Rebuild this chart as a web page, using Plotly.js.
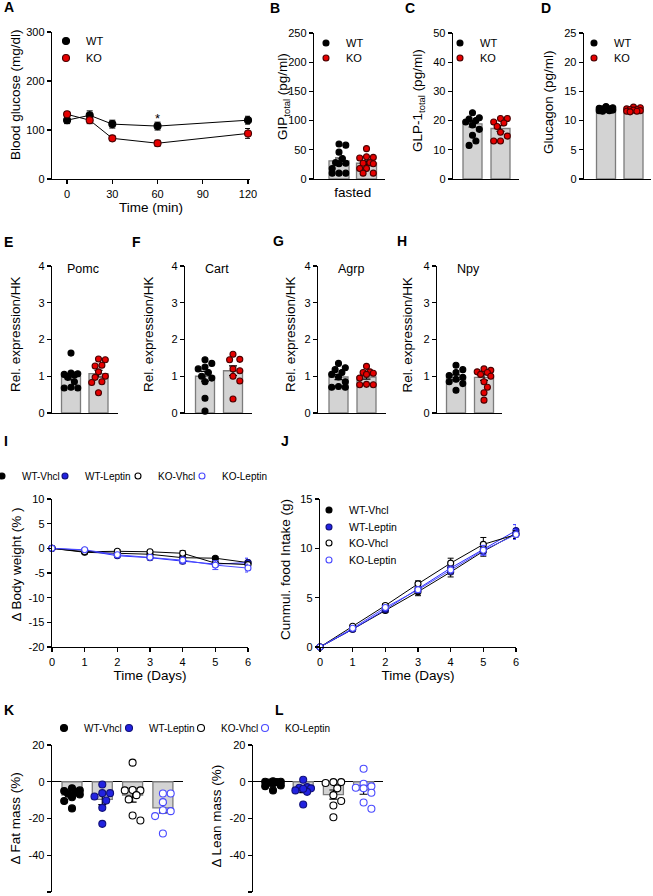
<!DOCTYPE html>
<html><head><meta charset="utf-8">
<script src="https://cdn.plot.ly/plotly-3.0.1.min.js"></script>
<style>html,body{margin:0;padding:0;background:#fff}#chart{width:653px;height:896px}</style>
</head><body><div id="chart"></div>
<script>
// ================= DATA =================
// A: blood glucose
const timeMin = [0, 15, 30, 60, 120];
const glucoseWT = [120, 130, 112, 108, 120];
const glucoseWTsem = [7, 9, 8, 8, 8];
const glucoseKO = [132, 120, 83, 73, 93];
const glucoseKOsem = [5, 7, 5, 6, 10];
const glucoseTicks = [0, 100, 200, 300];
const timeMinTicks = [0, 30, 60, 90, 120];
const sigTimeIndex = 3; // "*" at 60 min
const genotypes = ['WT', 'KO'];

// B: GIP total
const gipWT = [60, 58, 46, 35, 28, 27, 26, 18, 10, 10, 10];
const gipKO = [52, 38, 37, 36, 28, 27, 26, 18, 18, 10, 10];
const gipMean = [31, 27];
const gipSem = [5, 4];
const gipTicks = [0, 50, 100, 150, 200, 250];
// C: GLP-1 total
const glp1WT = [22.7, 21, 20.5, 20, 19.5, 18.5, 17, 15, 13, 11.5];
const glp1KO = [20.7, 20.7, 19.5, 19.2, 18, 16, 14.7, 13, 13];
const glp1Mean = [18.9, 17.3];
const glp1Sem = [1.1, 1.0];
const glp1Ticks = [0, 10, 20, 30, 40, 50];
// D: Glucagon
const glucagonWT = [12.4, 12.2, 12.1, 12.0, 12.0, 11.9, 11.8, 11.7, 11.7, 11.6];
const glucagonKO = [12.3, 12.2, 12.0, 11.9, 11.9, 11.8, 11.7, 11.6, 11.6, 11.5];
const glucagonMean = [11.9, 11.8];
const glucagonSem = [0.1, 0.1];
const glucagonTicks = [0, 5, 10, 15, 20, 25];

// E-H: relative expression
const exprTicks = [0, 1, 2, 3, 4];
const pomcWT = [1.63, 1.09, 1.07, 1.05, 1.03, 0.97, 0.85, 0.70, 0.68, 0.68];
const pomcKO = [1.47, 1.45, 1.30, 1.28, 1.12, 1.00, 0.97, 0.85, 0.83, 0.55];
const pomcMean = [0.99, 1.07];
const pomcSem = [0.09, 0.09];
const cartWT = [1.45, 1.35, 1.25, 1.20, 1.10, 1.00, 0.95, 0.85, 0.40, 0.05];
const cartKO = [1.60, 1.46, 1.45, 1.20, 1.15, 1.00, 0.87, 0.38];
const cartMean = [1.00, 1.15];
const cartSem = [0.13, 0.13];
const agrpWT = [1.35, 1.23, 1.18, 1.10, 1.05, 0.98, 0.85, 0.72, 0.70, 0.70];
const agrpKO = [1.27, 1.12, 1.10, 1.08, 1.05, 0.95, 0.78, 0.77, 0.77];
const agrpMean = [0.98, 0.98];
const agrpSem = [0.07, 0.06];
const npyWT = [1.30, 1.18, 1.10, 1.02, 0.97, 0.92, 0.85, 0.80, 0.62];
const npyKO = [1.20, 1.16, 1.12, 1.10, 1.05, 1.00, 0.85, 0.70, 0.55, 0.35];
const npyMean = [0.97, 0.97];
const npySem = [0.07, 0.08];

// I, J: time course (days)
const treatments = ['WT-Vhcl', 'WT-Leptin', 'KO-Vhcl', 'KO-Leptin'];
const days = [0, 1, 2, 3, 4, 5, 6];
const bwWTVhcl = [0, -0.8, -1.0, -1.2, -1.9, -2.0, -2.9];
const bwWTLeptin = [0, -0.4, -1.5, -1.9, -2.6, -3.2, -2.9];
const bwKOVhcl = [0, -0.7, -0.6, -0.7, -1.0, -3.0, -3.3];
const bwKOLeptin = [0, -0.3, -1.3, -1.8, -2.4, -3.4, -4.0];
const bwWTVhclSem = [0, 0.2, 0.3, 0.3, 0.3, 0.3, 0.4];
const bwWTLeptinSem = [0, 0.2, 0.3, 0.4, 0.5, 0.5, 0.9];
const bwKOVhclSem = [0, 0.2, 0.3, 0.3, 0.5, 0.6, 0.5];
const bwKOLeptinSem = [0, 0.2, 0.3, 0.4, 0.6, 0.9, 0.8];
const bwTicks = [-20, -15, -10, -5, 0, 5, 10];
const fiWTVhcl = [0, 1.8, 3.7, 5.6, 7.6, 9.7, 11.5];
const fiWTLeptin = [0, 1.8, 3.8, 5.9, 8.0, 9.9, 11.8];
const fiKOVhcl = [0, 2.1, 4.2, 6.4, 8.5, 10.4, 11.4];
const fiKOLeptin = [0, 1.9, 4.0, 5.8, 7.8, 9.8, 11.4];
const fiWTVhclSem = [0, 0.1, 0.2, 0.4, 0.5, 0.5, 0.5];
const fiWTLeptinSem = [0, 0.1, 0.2, 0.3, 0.4, 0.5, 0.6];
const fiKOVhclSem = [0, 0.1, 0.2, 0.3, 0.5, 0.7, 0.4];
const fiKOLeptinSem = [0, 0.1, 0.2, 0.3, 0.4, 0.5, 0.5];
const fiTicks = [0, 5, 10, 15];
const dayTicks = [0, 1, 2, 3, 4, 5, 6];

// K, L: body composition
const massTicks = [-60, -40, -20, 0, 20];
const fatWTVhcl = [-3.6, -4.7, -5.1, -5.5, -6.5, -6.9, -8.4, -10.5, -14.5];
const fatWTLeptin = [-1.5, -6.2, -6.2, -8.0, -10.2, -14.2, -22.9];
const fatKOVhcl = [10.4, -4.5, -4.7, -4.7, -7.3, -9.6, -18.4, -21.1];
const fatKOLeptin = [-6.4, -6.4, -11.1, -15.5, -16.0, -18.7, -28.2];
const fatMean = [-7.3, -9.6, -7.3, -14.2];
const fatSem = [1.1, 2.8, 3.8, 2.7];
const leanWTVhcl = [0.3, 0, 0, -0.2, -0.5, -1.0, -2.0, -2.4, -4.7];
const leanWTLeptin = [1.1, -2.9, -3.3, -3.6, -4.7, -5.5, -3.8, -12.4];
const leanKOVhcl = [-0.2, -0.2, -0.7, -3.6, -7.3, -10.5, -12.9, -19.3];
const leanKOLeptin = [7.1, -1.1, -2.5, -3.3, -3.6, -6.0, -11.3, -14.7];
const leanMean = [-1.3, -4.5, -7.0, -4.4];
const leanSem = [0.5, 1.4, 2.5, 2.4];

// ================= STYLE / LAYOUT =================
const W = 653, H = 896;
const FONT = '"Liberation Sans", Arial, Helvetica, sans-serif';
const TITLE_SIZE = 13.5;
const BAR_FILL = '#d3d3d3', BAR_EDGE = '#7c7c7c';
const STY = {
  'WT': {fill: '#000000', edge: '#000000', line: '#000000'},
  'KO': {fill: '#e60000', edge: '#4a0000', line: '#000000'},
  'WT-Vhcl': {fill: '#000000', edge: '#000000', line: '#000000'},
  'WT-Leptin': {fill: '#2222e0', edge: '#10107a', line: '#2a2aff'},
  'KO-Vhcl': {fill: '#ffffff', edge: '#000000', line: '#000000'},
  'KO-Leptin': {fill: '#ffffff', edge: '#4a4aff', line: '#4a4aff'}
};

const traces = [];
const layout = {
  width: W, height: H,
  margin: {l: 0, r: 0, t: 0, b: 0, autoexpand: false},
  paper_bgcolor: '#ffffff', plot_bgcolor: 'rgba(0,0,0,0)',
  font: {family: FONT, size: 11, color: '#000'},
  showlegend: true, barmode: 'overlay', hovermode: false,
  annotations: []
};

const BASE_AX = {
  showline: true, linecolor: '#000', linewidth: 1.3, mirror: false,
  showgrid: false, zeroline: false,
  ticks: 'outside', ticklen: 4, tickwidth: 1.3, tickcolor: '#000',
  tickfont: {family: FONT, size: 11, color: '#000'},
  fixedrange: true, automargin: false,
  title: {font: {family: FONT, size: TITLE_SIZE, color: '#000'}}
};
function mergeAxis(base, extra) {
  const out = Object.assign({}, base, extra);
  out.title = Object.assign({}, base.title, extra.title || {});
  out.tickfont = Object.assign({}, base.tickfont, extra.tickfont || {});
  return out;
}
function note(text, px, py, o) {
  layout.annotations.push(Object.assign({text: text, xref: 'paper', yref: 'paper', x: px / W, y: 1 - py / H,
    showarrow: false, font: {family: FONT, size: 13, color: '#000'}}, o || {}));
}
// y-axis title drawn as a rotated text centred at (cx, cy) in pixels
function yTitle(text, cx, cy) {
  note(text, cx, cy, {textangle: -90, xanchor: 'center', yanchor: 'middle',
    font: {family: FONT, size: TITLE_SIZE, color: '#000'}});
}
let axCount = 0;
function makeAxes(box, xo, yo) {
  axCount++;
  const s = axCount === 1 ? '' : String(axCount);
  layout['xaxis' + s] = mergeAxis(BASE_AX, Object.assign({domain: [box.xl / W, box.xr / W], anchor: 'y' + s}, xo));
  layout['yaxis' + s] = mergeAxis(BASE_AX, Object.assign({domain: [1 - box.yb / H, 1 - box.yt / H], anchor: 'x' + s}, yo));
  if (box.title) yTitle(box.title, box.tx, box.ty);
  return {xaxis: 'x' + s, yaxis: 'y' + s};
}
let legCount = 0;
function legendAt(mx, my, fs) {
  legCount++;
  const id = legCount === 1 ? 'legend' : 'legend' + legCount;
  layout[id] = {x: (mx - 20) / W, y: 1 - (my - 14.5) / H, xanchor: 'left', yanchor: 'top',
    bgcolor: 'rgba(0,0,0,0)', borderwidth: 0, itemwidth: 30,
    font: {family: FONT, size: fs || 11, color: '#000'}};
  return id;
}
function letter(t, left, cy) {
  note('<b>' + t + '</b>', left, cy, {xanchor: 'left', yanchor: 'middle', font: {family: FONT, size: 14, color: '#000'}});
}
// compact beeswarm limited to +-maxOff px: returns x offsets (axis units)
function swarm(vals, pxPerX, pxPerY, d, maxOff) {
  const order = vals.map((v, i) => i).sort((a, b) => vals[b] - vals[a]);
  const cands = [0];
  for (let k = 1; k * d * 0.5 <= maxOff + 0.01; k++) cands.push(k * d * 0.5, -k * d * 0.5);
  const placed = [];
  const off = new Array(vals.length).fill(0);
  order.forEach(i => {
    const y = vals[i] * pxPerY;
    let best = 0, bestScore = -1;
    for (const c of cands) {
      const m = placed.reduce((mn, p) => Math.min(mn, Math.hypot(p.x - c, p.y - y)), Infinity);
      if (m >= d * 0.95) { best = c; break; }
      if (m > bestScore) { bestScore = m; best = c; }
    }
    placed.push({x: best, y: y});
    off[i] = best / pxPerX;
  });
  return off;
}

function barPanel(p) {
  const b = p.box;
  const xr = [(b.xl - b.c0) / b.dc, (b.xr - b.c0) / b.dc];
  const yr = [p.ticks[0], p.ticks[p.ticks.length - 1]];
  const ax = makeAxes(b,
    Object.assign({range: xr, ticks: '', showticklabels: false}, p.xo || {}),
    Object.assign({range: yr, tickvals: p.ticks, ticktext: p.ticks.map(String)}, p.yo || {}));
  const pxPerY = (b.yb - b.yt) / (yr[1] - yr[0]);
  traces.push(Object.assign({type: 'bar', x: p.cats.map((c, i) => i), y: p.means, width: b.bw / b.dc,
    marker: {color: BAR_FILL, line: {color: BAR_EDGE, width: 1.3}},
    error_y: {type: 'data', array: p.sems, visible: true, color: '#000', thickness: 1.2, width: 4},
    showlegend: false, hoverinfo: 'skip'}, ax));
  p.cats.forEach((c, i) => {
    const vals = p.vals[i];
    const off = swarm(vals, b.dc, pxPerY, p.msize + 0.8, b.bw / 2 - 1);
    const st = STY[c];
    const tr = Object.assign({type: 'scatter', mode: 'markers', name: c,
      x: vals.map((v, j) => i + off[j]), y: vals,
      marker: {size: p.msize, color: st.fill, line: {color: st.edge, width: 1.1}},
      cliponaxis: false, showlegend: !!p.legend, hoverinfo: 'skip'}, ax);
    if (p.legend) tr.legend = legendAt(p.legend[i][0], p.legend[i][1], p.legendFont || 11);
    traces.push(tr);
  });
  return ax;
}

function timePanel(p) {
  const ax = makeAxes(p.box, p.xo, p.yo);
  p.series.forEach(s => {
    traces.push(Object.assign({type: 'scatter', mode: 'lines', x: p.x, y: s.vals, name: s.name,
      line: {color: STY[s.name].line, width: 1}, showlegend: false, cliponaxis: false, hoverinfo: 'skip'}, ax));
  });
  p.series.forEach((s, i) => {
    const st = STY[s.name];
    traces.push(Object.assign({type: 'scatter', mode: 'markers', x: p.x, y: s.vals, name: s.name,
      marker: {size: p.msize, color: st.fill, line: {color: st.edge, width: 1.1}},
      error_y: {type: 'data', array: s.sem, visible: true, color: p.errColor ? p.errColor(s.name) : st.line, thickness: 1, width: 3},
      legend: legendAt(p.legend[i][0], p.legend[i][1], p.legendFont || 11),
      cliponaxis: false, hoverinfo: 'skip'}, ax));
  });
  return ax;
}

// ---------- Panel A ----------
const axA = timePanel({
  box: {xl: 52, xr: 250, yt: 32, yb: 179, title: 'Blood glucose (mg/dl)', tx: 16, ty: 95},
  x: timeMin, msize: 7,
  xo: {range: [-10, 121.3], tickvals: timeMinTicks, ticktext: timeMinTicks.map(String),
       title: {text: 'Time (min)', standoff: 4}},
  yo: {range: [0, 300], tickvals: glucoseTicks, ticktext: glucoseTicks.map(String)},
  series: [{name: 'WT', vals: glucoseWT, sem: glucoseWTsem}, {name: 'KO', vals: glucoseKO, sem: glucoseKOsem}],
  errColor: () => '#000',
  legend: [[66, 41], [66, 58]]
});
layout.annotations.push({text: '*', xref: axA.xaxis, yref: axA.yaxis, x: timeMin[sigTimeIndex],
  y: glucoseWT[sigTimeIndex] + glucoseWTsem[sigTimeIndex], yanchor: 'middle', yshift: 4, showarrow: false,
  font: {family: FONT, size: 13, color: '#000'}});

// ---------- Panels B-D ----------
barPanel({box: {xl: 314, xr: 385, yt: 33, yb: 179, c0: 339, dc: 27.5, bw: 20, title: 'GIP<sub>total</sub> (pg/ml)', tx: 283, ty: 97},
  cats: genotypes, vals: [gipWT, gipKO], means: gipMean, sems: gipSem, ticks: gipTicks, msize: 6,
  xo: {showticklabels: true, tickvals: [0.5], ticktext: ['fasted'], tickfont: {size: 13.5}},
  legend: [[326, 43], [326, 58]]});
barPanel({box: {xl: 453, xr: 519, yt: 33, yb: 179, c0: 472.5, dc: 28, bw: 19, title: 'GLP-1<sub>total</sub> (pg/ml)', tx: 418, ty: 101},
  cats: genotypes, vals: [glp1WT, glp1KO], means: glp1Mean, sems: glp1Sem, ticks: glp1Ticks, msize: 6,
  legend: [[460, 43], [460, 58]]});
barPanel({box: {xl: 584, xr: 651, yt: 33, yb: 179, c0: 606, dc: 27.5, bw: 19, title: 'Glucagon (pg/ml)', tx: 549, ty: 102},
  cats: genotypes, vals: [glucagonWT, glucagonKO], means: glucagonMean, sems: glucagonSem, ticks: glucagonTicks, msize: 6,
  legend: [[594, 43], [594, 58]]});

// ---------- Panels E-H ----------
const exprPanels = [
  {box: {xl: 52, xr: 118, yt: 266, yb: 413, c0: 71, dc: 27.5, bw: 19, tx: 15.5}, vals: [pomcWT, pomcKO], means: pomcMean, sems: pomcSem, gene: 'Pomc', gx: 83},
  {box: {xl: 185, xr: 252, yt: 266, yb: 413, c0: 205, dc: 28, bw: 19, tx: 148.5}, vals: [cartWT, cartKO], means: cartMean, sems: cartSem, gene: 'Cart', gx: 217},
  {box: {xl: 318, xr: 386, yt: 266, yb: 413, c0: 338.5, dc: 28, bw: 19, tx: 290.5}, vals: [agrpWT, agrpKO], means: agrpMean, sems: agrpSem, gene: 'Agrp', gx: 351},
  {box: {xl: 437, xr: 502, yt: 266, yb: 413, c0: 456, dc: 28, bw: 19, tx: 407}, vals: [npyWT, npyKO], means: npyMean, sems: npySem, gene: 'Npy', gx: 468}
];
exprPanels.forEach(e => {
  e.box.title = 'Rel. expression/HK';
  e.box.ty = 334.5;
  barPanel({box: e.box, cats: genotypes, vals: e.vals, means: e.means, sems: e.sems, ticks: exprTicks, msize: 6});
  note(e.gene, e.gx, 269, {xanchor: 'center', yanchor: 'middle', font: {family: FONT, size: 12.5, color: '#000'}});
});

// ---------- Panel I ----------
timePanel({
  box: {xl: 52, xr: 248, yt: 499, yb: 647, title: 'Δ Body weight (% )', tx: 15.5, ty: 565},
  x: days, msize: 6, legendFont: 10,
  xo: {range: [0, 6], tickvals: dayTicks, ticktext: dayTicks.map(String), title: {text: 'Time (Days)', standoff: 4}},
  yo: {range: [-20, 10], tickvals: bwTicks, ticktext: bwTicks.map(String)},
  series: [
    {name: 'WT-Vhcl', vals: bwWTVhcl, sem: bwWTVhclSem},
    {name: 'WT-Leptin', vals: bwWTLeptin, sem: bwWTLeptinSem},
    {name: 'KO-Vhcl', vals: bwKOVhcl, sem: bwKOVhclSem},
    {name: 'KO-Leptin', vals: bwKOLeptin, sem: bwKOLeptinSem}
  ],
  legend: [[2, 476], [65, 476], [138, 476], [202, 476]]
});

// ---------- Panel J ----------
timePanel({
  box: {xl: 320, xr: 516, yt: 499, yb: 647, title: 'Cunmul. food Intake (g)', tx: 285, ty: 570},
  x: days, msize: 6, legendFont: 10.5,
  xo: {range: [0, 6], tickvals: dayTicks, ticktext: dayTicks.map(String), title: {text: 'Time (Days)', standoff: 4}},
  yo: {range: [0, 15], tickvals: fiTicks, ticktext: fiTicks.map(String)},
  series: [
    {name: 'WT-Vhcl', vals: fiWTVhcl, sem: fiWTVhclSem},
    {name: 'WT-Leptin', vals: fiWTLeptin, sem: fiWTLeptinSem},
    {name: 'KO-Vhcl', vals: fiKOVhcl, sem: fiKOVhclSem},
    {name: 'KO-Leptin', vals: fiKOLeptin, sem: fiKOLeptinSem}
  ],
  legend: [[329, 510], [329, 527], [329, 543], [329, 560]]
});

// ---------- Panels K, L ----------
const bodyAxisX = {showline: false};
const bodyAxisY = {zeroline: true, zerolinecolor: '#000', zerolinewidth: 1.3};
barPanel({box: {xl: 52, xr: 183, yt: 745, yb: 892, c0: 72, dc: 30.3, bw: 20, title: 'Δ Fat mass (%)', tx: 15, ty: 818.5},
  cats: treatments, vals: [fatWTVhcl, fatWTLeptin, fatKOVhcl, fatKOLeptin], means: fatMean, sems: fatSem,
  ticks: massTicks, msize: 7, xo: bodyAxisX, yo: bodyAxisY, legendFont: 10,
  legend: [[64, 728], [129, 728], [201, 728], [265, 728]]});
barPanel({box: {xl: 253, xr: 383, yt: 745, yb: 892, c0: 273, dc: 30.2, bw: 20, title: 'Δ Lean mass (%)', tx: 216, ty: 816.5},
  cats: treatments, vals: [leanWTVhcl, leanWTLeptin, leanKOVhcl, leanKOLeptin], means: leanMean, sems: leanSem,
  ticks: massTicks, msize: 7, xo: bodyAxisX, yo: bodyAxisY});

// ---------- Panel letters ----------
letter('A', 2, 7); letter('B', 268, 8); letter('C', 403, 8); letter('D', 539, 8);
letter('E', 2, 242); letter('F', 130, 242); letter('G', 271, 241); letter('H', 395, 241);
letter('I', 2, 441); letter('J', 279, 441);
letter('K', 2, 710); letter('L', 273, 710);

Plotly.newPlot('chart', traces, layout, {displayModeBar: false, staticPlot: true});
</script></body></html>
